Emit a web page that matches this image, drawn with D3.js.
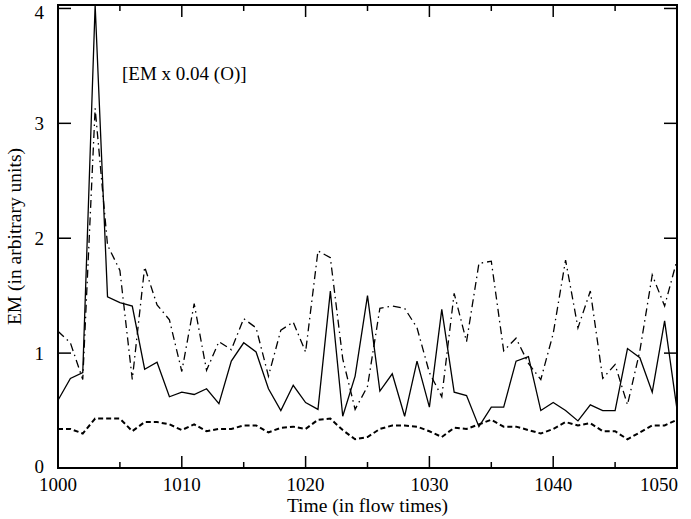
<!DOCTYPE html>
<html>
<head>
<meta charset="utf-8">
<script src="https://cdn.jsdelivr.net/npm/d3@7"></script>
<style>
  body { margin: 0; background: #fff; }
  svg text { font-family: "Liberation Serif", "DejaVu Serif", serif; fill: #000; }
</style>
</head>
<body>
<div id="chart"></div>
<script>
// time axis, one sample per flow time
var times = d3.range(1000, 1051);

// solid line
var emSolid = [0.59, 0.78, 0.83, 4.03, 1.49, 1.44, 1.41, 0.86, 0.92, 0.62,
  0.66, 0.64, 0.69, 0.56, 0.93, 1.09, 1.01, 0.69, 0.50, 0.72,
  0.57, 0.51, 1.54, 0.45, 0.80, 1.50, 0.67, 0.82, 0.45, 0.93,
  0.53, 1.38, 0.66, 0.63, 0.36, 0.53, 0.53, 0.93, 0.97, 0.50,
  0.57, 0.50, 0.41, 0.55, 0.50, 0.50, 1.04, 0.96, 0.66, 1.28,
  0.51];

// dash-dot line
var emDashDot = [1.19, 1.09, 0.77, 3.13, 1.94, 1.72, 0.77, 1.75, 1.42, 1.29,
  0.84, 1.43, 0.85, 1.10, 1.03, 1.30, 1.22, 0.80, 1.20, 1.27,
  1.01, 1.89, 1.83, 0.95, 0.51, 0.71, 1.39, 1.41, 1.39, 1.22,
  0.83, 0.62, 1.52, 1.10, 1.78, 1.80, 1.02, 1.13, 0.91, 0.77,
  1.17, 1.81, 1.22, 1.54, 0.78, 0.90, 0.55, 1.02, 1.68, 1.41,
  1.81];

// thick dashed line
var emDashed = [0.34, 0.34, 0.30, 0.43, 0.43, 0.43, 0.32, 0.40, 0.40, 0.38,
  0.33, 0.38, 0.32, 0.34, 0.34, 0.37, 0.37, 0.31, 0.35, 0.36,
  0.34, 0.42, 0.43, 0.33, 0.25, 0.27, 0.34, 0.37, 0.37, 0.36,
  0.32, 0.27, 0.35, 0.34, 0.38, 0.42, 0.36, 0.36, 0.33, 0.30,
  0.34, 0.40, 0.37, 0.39, 0.32, 0.32, 0.25, 0.31, 0.37, 0.37,
  0.42];

var xTicks = [1000, 1010, 1020, 1030, 1040, 1050];
var xMinor = [1005, 1015, 1025, 1035, 1045];
var yTicks = [0, 1, 2, 3, 4];

var width = 691, height = 519;
// plot box (note: "top" is reserved on window, so p-prefixed)
var pLeft = 58, pRight = 677, pTop = 5, pBottom = 468;

var x = d3.scaleLinear().domain([1000, 1050]).range([pLeft, pRight]);
var y = d3.scaleLinear().domain([0, 4.03]).range([pBottom, pTop]);

var svg = d3.select("#chart").append("svg")
  .attr("width", width)
  .attr("height", height);

svg.append("defs").append("clipPath").attr("id", "plotclip")
  .append("rect")
  .attr("x", pLeft).attr("y", pTop)
  .attr("width", pRight - pLeft).attr("height", pBottom - pTop);

// lines
var line = d3.line()
  .x(function(d, i){ return x(times[i]); })
  .y(function(d){ return y(d); });

var plot = svg.append("g").attr("clip-path", "url(#plotclip)");

plot.append("path")
  .attr("d", line(emDashDot))
  .attr("fill", "none")
  .attr("stroke", "#000")
  .attr("stroke-width", 1.3)
  .attr("stroke-dasharray", "8,4,1.5,4");

plot.append("path")
  .attr("d", line(emDashed))
  .attr("fill", "none")
  .attr("stroke", "#000")
  .attr("stroke-width", 2)
  .attr("stroke-dasharray", "5,3");

plot.append("path")
  .attr("d", line(emSolid))
  .attr("fill", "none")
  .attr("stroke", "#000")
  .attr("stroke-width", 1.3);

// frame
svg.append("rect")
  .attr("x", pLeft).attr("y", pTop)
  .attr("width", pRight - pLeft).attr("height", pBottom - pTop)
  .attr("fill", "none")
  .attr("stroke", "#000")
  .attr("stroke-width", 2);

// x ticks, bottom and top
var ticks = svg.append("g").attr("stroke", "#000").attr("stroke-width", 1.5);
xTicks.forEach(function(t){
  ticks.append("line").attr("x1", x(t)).attr("x2", x(t)).attr("y1", pBottom).attr("y2", pBottom - 12);
  ticks.append("line").attr("x1", x(t)).attr("x2", x(t)).attr("y1", pTop).attr("y2", pTop + 12);
});
xMinor.forEach(function(t){
  ticks.append("line").attr("x1", x(t)).attr("x2", x(t)).attr("y1", pBottom).attr("y2", pBottom - 6);
  ticks.append("line").attr("x1", x(t)).attr("x2", x(t)).attr("y1", pTop).attr("y2", pTop + 6);
});
// y ticks, left and right
yTicks.forEach(function(v){
  ticks.append("line").attr("x1", pLeft).attr("x2", pLeft + 13).attr("y1", y(v)).attr("y2", y(v));
  ticks.append("line").attr("x1", pRight).attr("x2", pRight - 13).attr("y1", y(v)).attr("y2", y(v));
});

// tick labels
svg.selectAll("text.xl").data(xTicks).enter().append("text")
  .attr("class", "xl")
  .attr("x", function(d){ return d == 1050 ? pRight + 1 : x(d); })
  .attr("y", 491)
  .attr("text-anchor", function(d){ return d == 1050 ? "end" : "middle"; })
  .attr("font-size", 19)
  .text(function(d){ return d; });

svg.selectAll("text.yl").data(yTicks).enter().append("text")
  .attr("class", "yl")
  .attr("x", 44)
  .attr("y", function(d){ return d == 0 ? y(d) + 5 : (d == 4 ? y(d) + 10.5 : y(d) + 7); })
  .attr("text-anchor", "end")
  .attr("font-size", 19)
  .text(function(d){ return d; });

// axis titles
svg.append("text")
  .attr("x", (pLeft + pRight) / 2)
  .attr("y", 512)
  .attr("text-anchor", "middle")
  .attr("font-size", 19.5)
  .text("Time (in flow times)");

svg.append("text")
  .attr("transform", "translate(21," + ((pTop + pBottom) / 2) + ") rotate(-90)")
  .attr("text-anchor", "middle")
  .attr("font-size", 19.5)
  .text("EM (in arbitrary units)");

// annotation
svg.append("text")
  .attr("x", 122)
  .attr("y", 80)
  .attr("font-size", 19)
  .text("[EM x 0.04 (O)]");
</script>
</body>
</html>
